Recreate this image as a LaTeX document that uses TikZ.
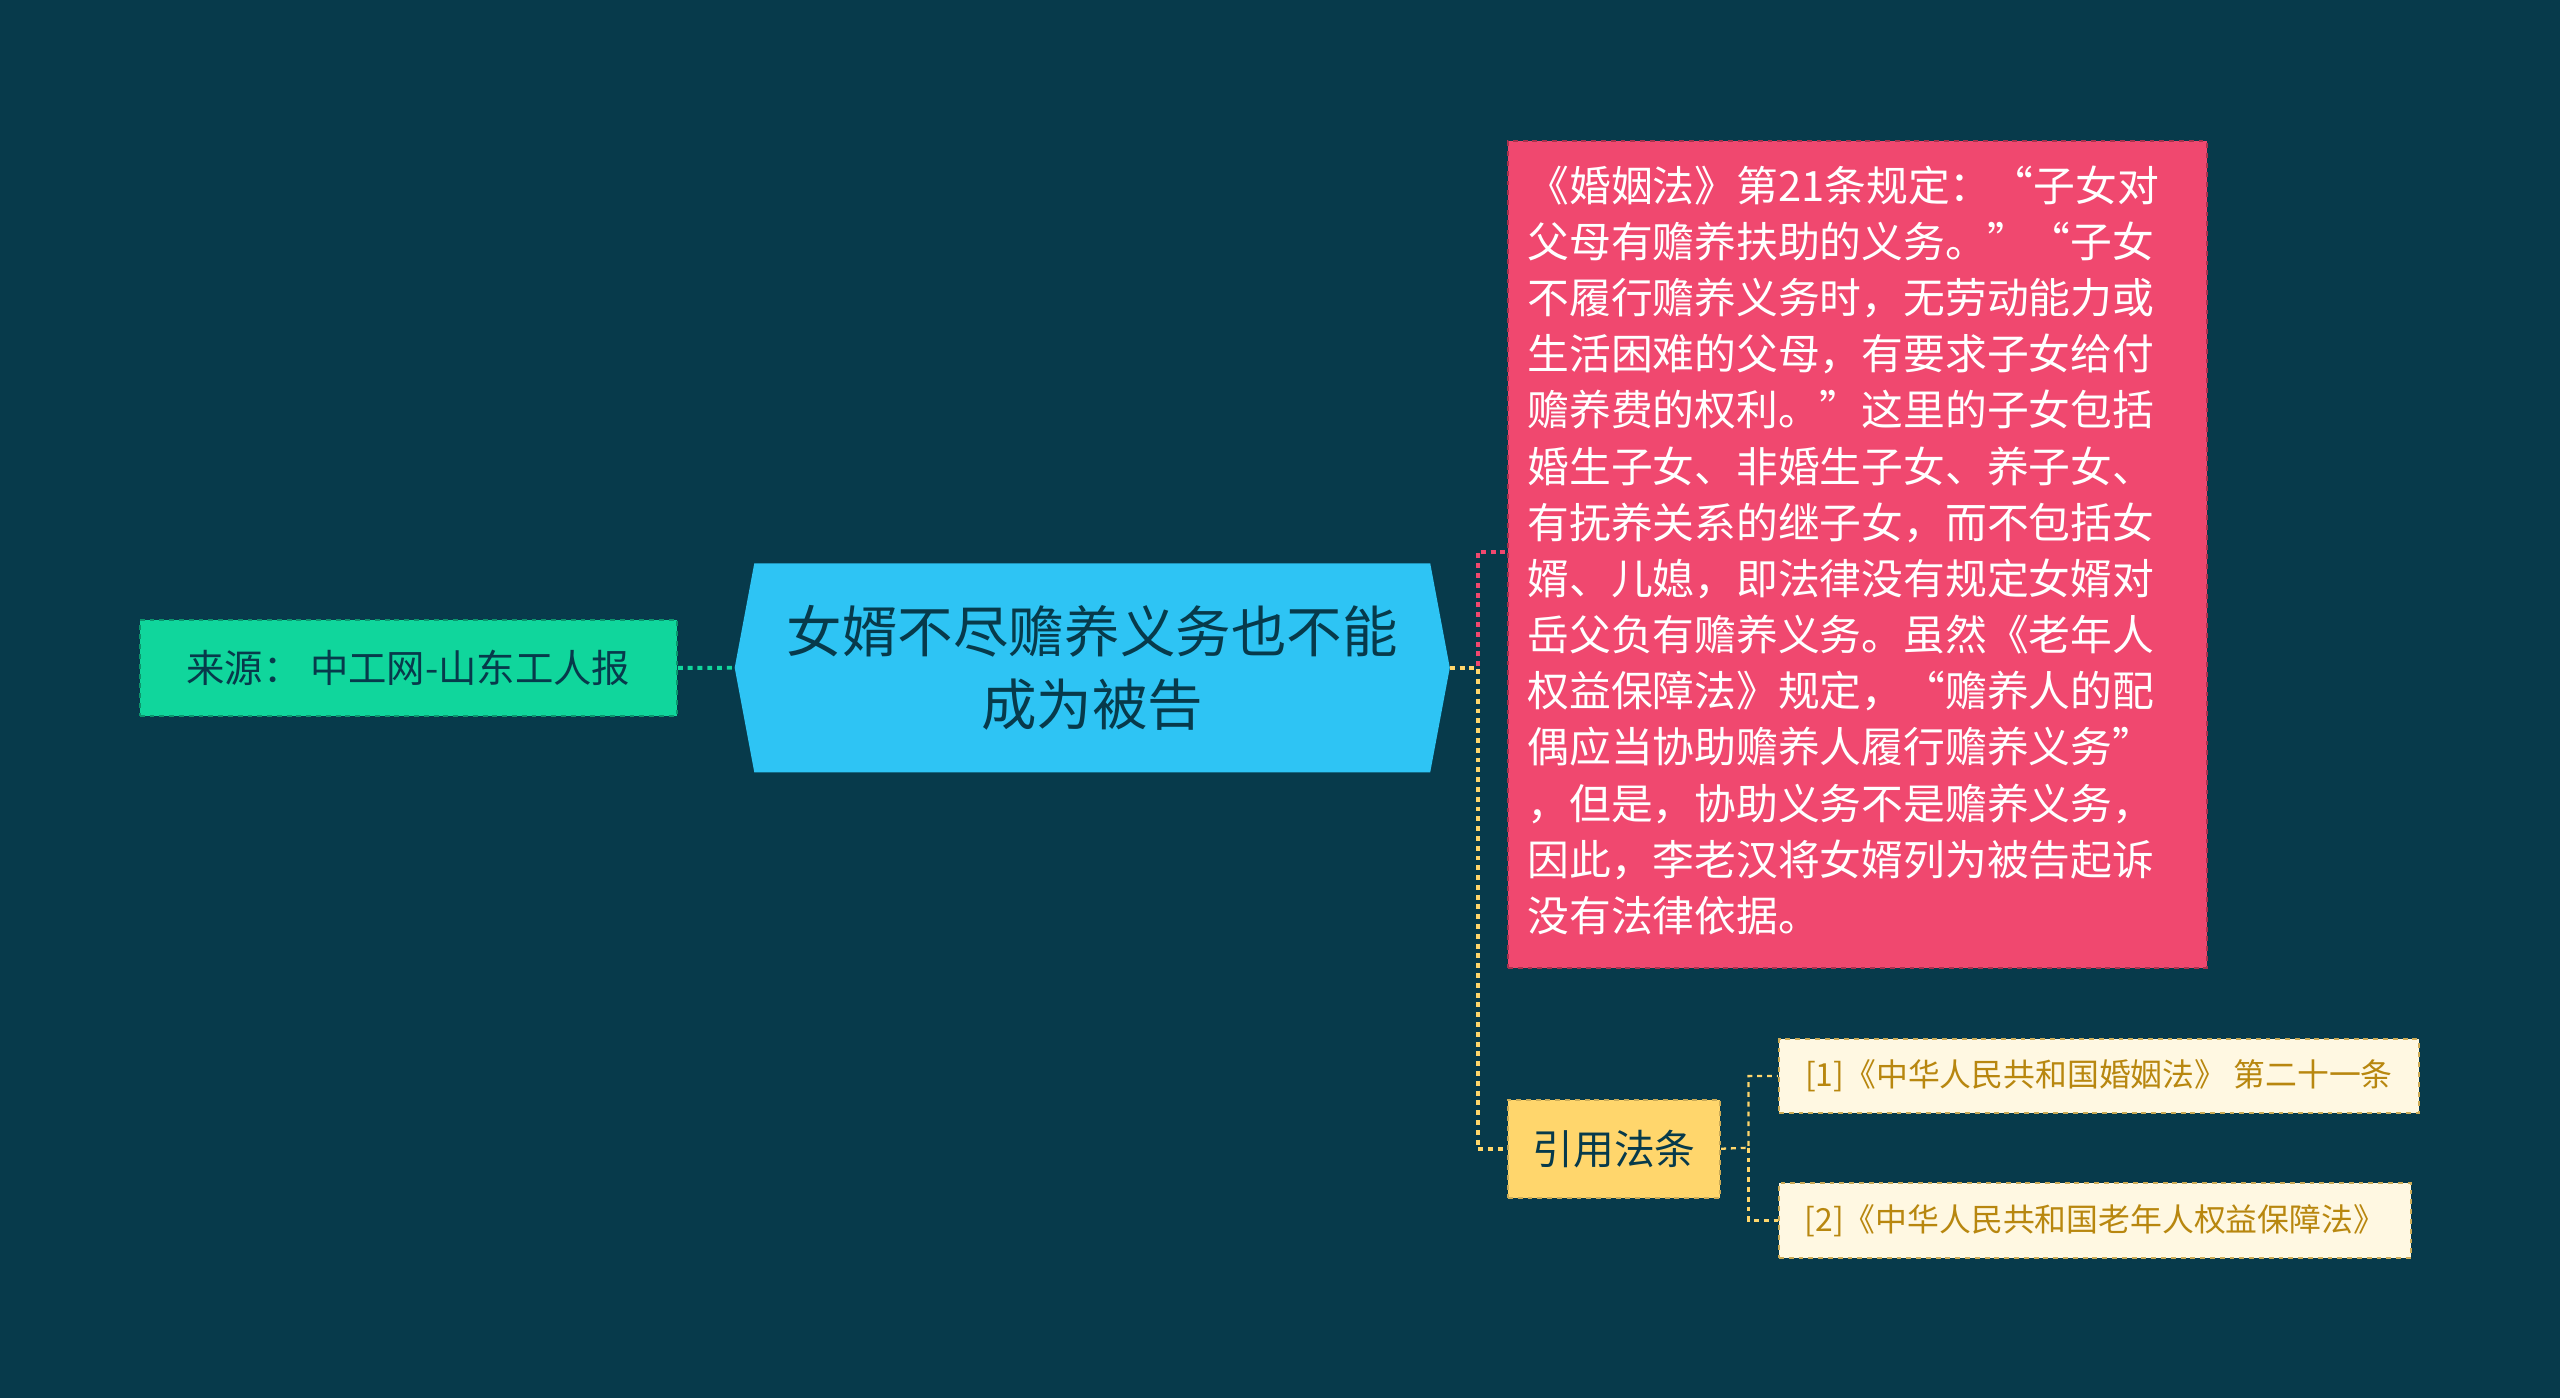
\documentclass[tikz,border=0pt]{standalone}
\usepackage{fontspec}
\setmainfont{Noto Sans CJK SC}
\definecolor{bg}{HTML}{073A4B}
\definecolor{grn}{HTML}{10D69C}
\definecolor{blu}{HTML}{2EC4F4}
\definecolor{pnk}{HTML}{F0486F}
\definecolor{ylw}{HTML}{FFD66C}
\definecolor{crm}{HTML}{FFF8E2}
\definecolor{gold}{HTML}{B8870F}
\begin{document}
\begin{tikzpicture}[x=1pt,y=-1pt,
 box/.style={draw,dashed,line width=1.2pt,inner sep=0pt,anchor=north west},
 conn/.style={dashed,line width=2.4pt}]
\fill[bg] (0,0) rectangle (1568,856);
\useasboundingbox (0,0) rectangle (1568,856);
% left
\node[box,draw=grn!70!black,fill=grn,minimum width=329,minimum height=59,text=bg,font=\fontsize{23.5}{26}\selectfont] (src) at (85,379) {来源：\ 中工网-山东工人报};
% center
\fill[blu] (462,345) -- (876,345) -- (888,409) -- (876,473) -- (462,473) -- (450,409) -- cycle;
\node[text=bg,align=center,font=\fontsize{34}{45}\selectfont] (ctr) at (669,409) {女婿不尽赡养义务也不能\\成为被告};
\coordinate (cl) at (450,409); \coordinate (cr) at (888,409);
% pink
\node[box,draw=pnk!70!black,fill=pnk,minimum width=428,minimum height=506] (pk) at (923,86) {};
\node[anchor=north west,text=white,align=left,font=\fontsize{25.6}{34.4}\selectfont] (pt) at (932,98) {《婚姻法》第21条规定：“子女对\\父母有赡养扶助的义务。”“子女\\不履行赡养义务时，无劳动能力或\\生活困难的父母，有要求子女给付\\赡养费的权利。”这里的子女包括\\婚生子女、非婚生子女、养子女、\\有抚养关系的继子女，而不包括女\\婿、儿媳，即法律没有规定女婿对\\岳父负有赡养义务。虽然《老年人\\权益保障法》规定，“赡养人的配\\偶应当协助赡养人履行赡养义务”\\，但是，协助义务不是赡养义务，\\因此，李老汉将女婿列为被告起诉\\没有法律依据。};
% yellow
\node[box,draw=ylw!80!black,fill=ylw,minimum width=130,minimum height=60,text=bg,font=\fontsize{25}{28}\selectfont] (yl) at (923,673) {引用法条};
\node[box,draw=ylw!80!black,fill=crm,minimum width=392,minimum height=45,text=gold,font=\fontsize{19.5}{22}\selectfont] (c1) at (1089,636) {[1]《中华人民共和国婚姻法》 第二十一条};
\node[box,draw=ylw!80!black,fill=crm,minimum width=387,minimum height=46,text=gold,font=\fontsize{19.5}{22}\selectfont] (c2) at (1089,724) {[2]《中华人民共和国老年人权益保障法》};
% connectors
\draw[conn,grn] (src.east) -- (cl);
\draw[conn,pnk] (cr) -- (905,409) -- (905,338) -- (923,338);
\draw[conn,ylw] (cr) -- (905,409) |- (yl.west);
\draw[line width=1.4pt,dashed,ylw] (yl.east) -- (1071,703) |- (c1.west);
\draw[line width=1.4pt,dashed,ylw] (1071,703) |- (c2.west);
\end{tikzpicture}
\end{document}
